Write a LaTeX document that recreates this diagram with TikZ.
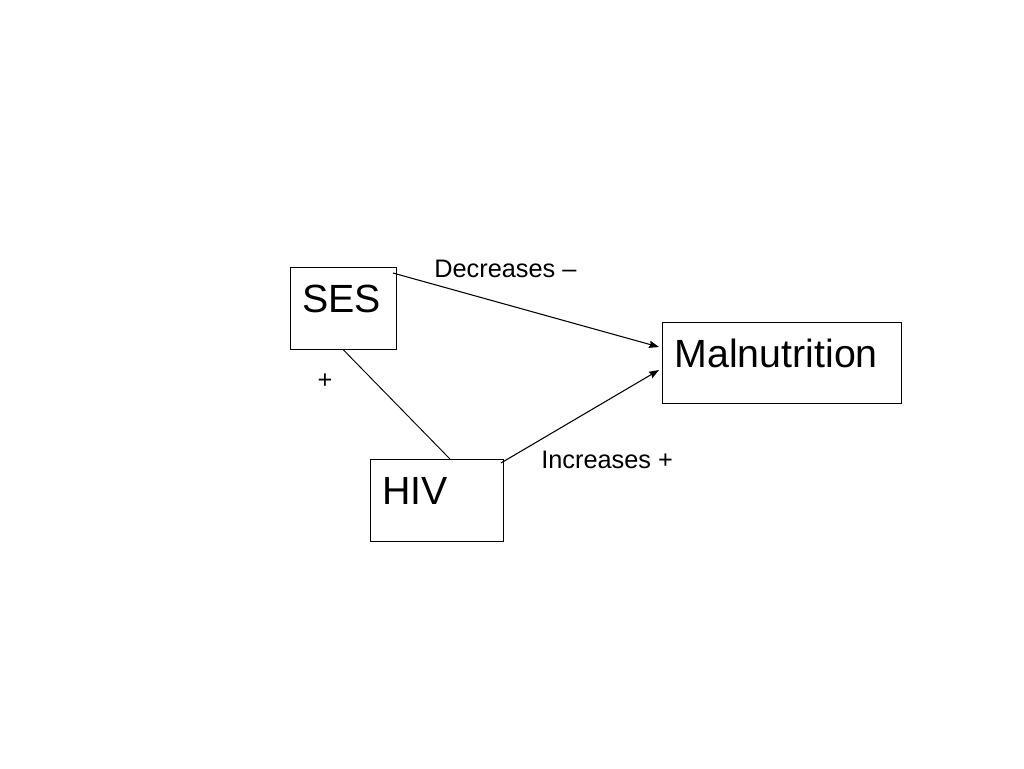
\documentclass[tikz,border=0pt]{standalone}
\usepackage{fontspec}
\setmainfont{Liberation Sans}
\usepackage{tikz}
\usetikzlibrary{arrows.meta}

\begin{document}
\begin{tikzpicture}[x=0.75pt,y=-0.75pt]
\tikzstyle{lien}=[-{Stealth[length=7.5pt,width=5.5pt,inset=1pt]},line width=0.8pt]
\tikzset{facteur/.style={draw,line width=0.7pt,align=left,inner xsep=9pt,inner ysep=0pt,
  text height=34pt,text depth=#1,font=\fontsize{29.5}{34}\selectfont},
facteur/.default={27.5pt},
etiquette/.style={inner sep=0pt,font=\fontsize{19}{22}\selectfont}}
\useasboundingbox (0,0) rectangle (1024,768);
\node[facteur,text width=61.5pt,anchor=north west] (ses) at (290,267) {SES};
\node[facteur,text width=81.75pt,anchor=north west] (hiv) at (370,459) {HIV};
\node[facteur=27pt,text width=161.25pt,anchor=north west] (mal) at (662,322) {Malnutrition};

\node[etiquette,anchor=base west] (dec) at (434,277) {Decreases –};
\node[etiquette,anchor=base west] (inc) at (541,468) {Increases +};
\node[etiquette] (plus) at (325,381) {+};

\draw[lien] ([shift={(-4,6)}]ses.north east) -- ([shift={(-3,25)}]mal.north west);
\draw[lien] ([shift={(-3,4)}]hiv.north east) -- ([shift={(-3,48)}]mal.north west);
\draw[line width=0.7pt] (ses.south) -- ([shift={(13,0)}]hiv.north);

\end{tikzpicture}
\end{document}
